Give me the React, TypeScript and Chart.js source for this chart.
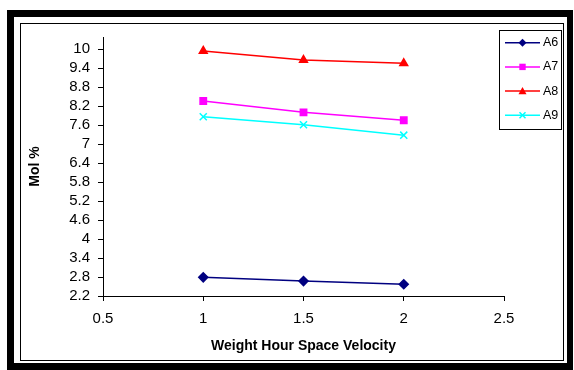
import React, { useEffect, useRef } from "react";
import { Chart, registerables } from "chart.js";

Chart.register(...registerables);

const xValues = [1, 1.5, 2];
const seriesNames = ["A6", "A7", "A8", "A9"];
const a6 = [2.79, 2.67, 2.57];
const a7 = [8.36, 8.0, 7.75];
const a8 = [9.94, 9.65, 9.55];
const a9 = [7.86, 7.61, 7.28];
const yTicks = [2.2, 2.8, 3.4, 4, 4.6, 5.2, 5.8, 6.4, 7, 7.6, 8.2, 8.8, 9.4, 10];
const xTicks = [0.5, 1, 1.5, 2, 2.5];
const xTitle = "Weight Hour Space Velocity";
const yTitle = "Mol %";

const seriesValues = [a6, a7, a8, a9];
const colors = ["#000080", "#FF00FF", "#FF0000", "#00FFFF"];
const pointStyles = ["rectRot", "rect", "triangle", "crossRot"];
const FONT = "'Liberation Sans', Arial, sans-serif";

function drawMarker(ctx: CanvasRenderingContext2D, style: string, x: number, y: number, r: number, color: string) {
  ctx.save();
  ctx.fillStyle = color;
  ctx.strokeStyle = color;
  ctx.lineWidth = 1.5;
  ctx.beginPath();
  if (style === "rectRot") {
    ctx.moveTo(x, y - r);
    ctx.lineTo(x + r, y);
    ctx.lineTo(x, y + r);
    ctx.lineTo(x - r, y);
    ctx.closePath();
    ctx.fill();
  } else if (style === "rect") {
    ctx.rect(x - r * 0.8, y - r * 0.8, r * 1.6, r * 1.6);
    ctx.fill();
  } else if (style === "triangle") {
    ctx.moveTo(x, y - r);
    ctx.lineTo(x + r, y + r * 0.8);
    ctx.lineTo(x - r, y + r * 0.8);
    ctx.closePath();
    ctx.fill();
  } else {
    const d = r * 0.75;
    ctx.moveTo(x - d, y - d);
    ctx.lineTo(x + d, y + d);
    ctx.moveTo(x + d, y - d);
    ctx.lineTo(x - d, y + d);
    ctx.stroke();
  }
  ctx.restore();
}

const framePlugin = {
  id: "frame",
  beforeDraw(chart: any) {
    const ctx = chart.ctx;
    ctx.save();
    ctx.fillStyle = "#fff";
    ctx.fillRect(0, 0, chart.width, chart.height);
    ctx.fillStyle = "#000";
    ctx.fillRect(7, 10, 566, 360);
    ctx.fillStyle = "#fff";
    ctx.fillRect(14, 17, 553, 346);
    ctx.strokeStyle = "#000";
    ctx.lineWidth = 1;
    ctx.strokeRect(20.5, 23.5, 543, 337);
    ctx.restore();
  },
};

const legendPlugin = {
  id: "customLegend",
  afterDraw(chart: any) {
    const ctx = chart.ctx;
    ctx.save();
    ctx.strokeStyle = "#000";
    ctx.lineWidth = 1;
    ctx.strokeRect(499.5, 30.5, 62, 99);
    chart.data.datasets.forEach((ds: any, i: number) => {
      const y = 42.7 + i * 24.2;
      ctx.strokeStyle = ds.borderColor;
      ctx.lineWidth = 1.5;
      ctx.beginPath();
      ctx.moveTo(505, y);
      ctx.lineTo(540, y);
      ctx.stroke();
      drawMarker(ctx, ds.pointStyle, 522.5, y, 4, ds.borderColor);
      ctx.fillStyle = "#000";
      ctx.font = `12.5px ${FONT}`;
      ctx.textBaseline = "middle";
      ctx.textAlign = "left";
      ctx.fillText(ds.label, 543, y);
    });
    ctx.restore();
  },
};

export default function App() {
  const ref = useRef<HTMLCanvasElement>(null);
  useEffect(() => {
    if (!ref.current) return;
    const chart = new Chart(ref.current, {
      type: "line",
      data: {
        datasets: seriesNames.map((name, i) => ({
          label: name,
          data: xValues.map((x, j) => ({ x, y: seriesValues[i][j] })),
          borderColor: colors[i],
          backgroundColor: colors[i],
          pointStyle: pointStyles[i],
          pointRadius: i === 3 ? 5 : 4.5,
          pointBorderWidth: 1.5,
          borderWidth: 1.5,
          tension: 0,
          fill: false,
        })),
      },
      options: {
        responsive: false,
        animation: false,
        devicePixelRatio: 1,
        layout: { padding: { left: 20, top: 37, right: 70, bottom: 10 } },
        plugins: { legend: { display: false }, tooltip: { enabled: false } },
        scales: {
          x: {
            type: "linear",
            min: 0.5,
            max: 2.5,
            afterBuildTicks: (s: any) => {
              s.ticks = xTicks.map((v) => ({ value: v }));
            },
            afterFit: (s: any) => {
              s.height = 64;
            },
            ticks: {
              color: "#000",
              font: { family: FONT, size: 15 },
              padding: 9,
              maxRotation: 0,
              autoSkip: false,
              callback: (v: any) => String(v),
            },
            grid: { drawOnChartArea: false, drawTicks: true, tickLength: 5, color: "#000" },
            border: { display: true, color: "#000", width: 1 },
            title: {
              display: true,
              text: xTitle,
              color: "#000",
              font: { family: FONT, size: 14, weight: "bold" },
              padding: { top: 0, bottom: 5.6 },
            },
          },
          y: {
            type: "linear",
            min: 2.2,
            max: 10.38,
            afterBuildTicks: (s: any) => {
              s.ticks = yTicks.map((v) => ({ value: v }));
            },
            afterFit: (s: any) => {
              s.width = 83;
            },
            ticks: {
              color: "#000",
              font: { family: FONT, size: 15 },
              padding: 8,
              autoSkip: false,
              callback: (v: any) => String(v),
            },
            grid: { drawOnChartArea: false, drawTicks: true, tickLength: 5, color: "#000" },
            border: { display: true, color: "#000", width: 1 },
            title: {
              display: true,
              text: yTitle,
              color: "#000",
              font: { family: FONT, size: 14, weight: "bold" },
              padding: { top: 6.6, bottom: 0 },
            },
          },
        },
      },
      plugins: [framePlugin, legendPlugin],
    });
    return () => chart.destroy();
  }, []);
  return (
    <div style={{ position: "absolute", left: 0, top: 0, width: 574, height: 370 }}>
      <canvas ref={ref} width={574} height={370} style={{ display: "block" }} />
    </div>
  );
}
